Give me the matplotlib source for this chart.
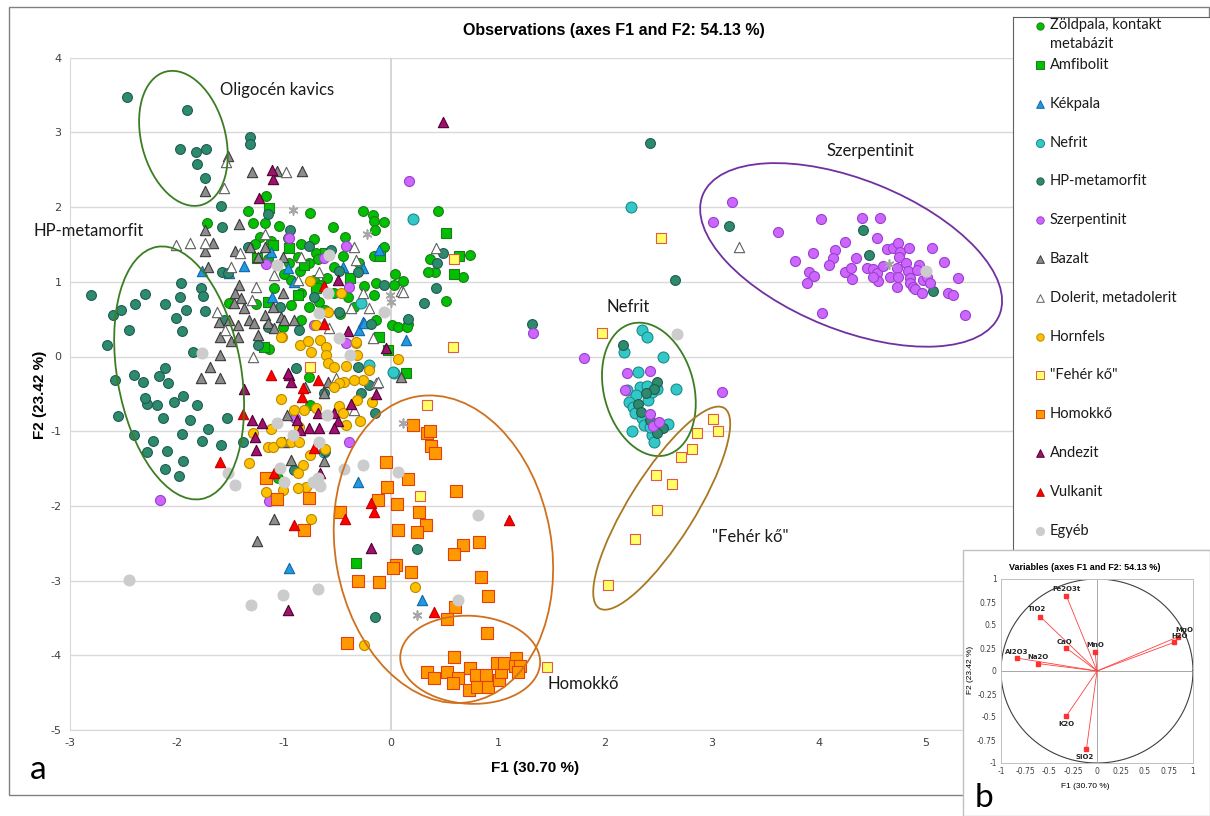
import numpy as np
import matplotlib.pyplot as plt
from matplotlib.patches import Ellipse, Rectangle
from matplotlib.transforms import ScaledTranslation

plt.rcParams["axes.unicode_minus"] = False

# ---- PCA observation scores (F1, F2) per rock group ----
zoldpala_x = [-1.17, -1.34, -0.76, -0.26, -0.17, -0.07, -0.16, 0.44, -1.72, -1.29, -1.18, -1.22, -0.54, -0.43,
              -0.72, -0.96, -0.84, -0.70, -0.16, -0.07, 0.36, 0.41, 0.51, 0.04, 0.11, -0.14, 0.03, -0.68, -0.77,
              -0.87, -0.53, -0.53, -0.16, -0.93, -0.72, -0.65, -0.84, -1.09, -0.93, -0.77, -0.67, -0.48, -0.35,
              -0.14, 0.01, 0.16, 0.07, -1.51, -1.26, -1.14, -1.19, -0.77, -0.76, -0.84, -1.01, -1.06, 0.74, 0.67,
              0.35, 0.15, -1.05, -0.95, -1.00, -0.60, -0.45, -0.30, -0.25, -1.12, -0.62, -0.85, -1.15, -0.40,
              -1.27, -0.15]
zoldpala_y = [2.15, 1.95, 1.92, 1.95, 1.89, 1.80, 1.81, 1.95, 1.79, 1.79, 1.79, 1.60, 1.73, 1.60,
              1.57, 1.59, 1.51, 1.39, 1.35, 1.47, 1.31, 1.13, 0.74, 1.10, 1.01, 0.98, 0.96, 1.31, 1.25,
              1.33, 1.20, 0.85, 0.82, 1.02, 1.02, 0.96, 0.85, 0.92, 0.69, 0.66, 0.73, 0.57, 0.66,
              0.49, 0.42, 0.44, 0.39, 0.71, 0.70, 0.10, 0.13, -0.27, -0.65, 0.49, 0.40, -1.63, 1.36, 1.07,
              1.13, 0.40, 1.75, 1.25, 1.10, 1.05, 1.35, 1.25, 0.95, 1.55, 0.62, 1.15, 1.30, 0.80,
              1.50, 1.70]

amfibolit_x = [-1.14, 0.51, -1.10, -0.81, -0.87, -1.15, -0.11, -1.19, -0.03, 0.14, 0.64, 0.59, -0.33,
               -0.95, -0.62, -1.25, -0.38, -0.70, -0.10]
amfibolit_y = [1.99, 1.65, 1.49, 1.22, 0.82, 0.73, 0.26, 0.13, 0.09, -0.22, 1.34, 1.11, -2.77,
               1.45, 1.38, 1.32, 1.05, 0.92, 1.35]

kekpala_x = [-1.37, -1.51, -1.12, -1.11, -0.96, -0.91, -0.45, -0.26, -0.11, -0.26, -0.30, 0.14, -0.31,
             -0.63, -0.25, -0.95, 0.29, -1.77]
kekpala_y = [1.21, 1.12, 1.40, 0.80, 1.18, 1.00, 1.20, 1.18, 1.43, 0.46, 0.35, 0.22, -1.68,
             0.45, 0.45, -2.83, -3.26, 1.15]

nefrit_x = [2.35, 2.39, 2.18, 2.54, 2.31, 2.66, 2.21, 2.33, 2.39, 2.48, 2.29, 2.22, 2.26, 2.28, 2.35, 2.36,
            2.25, 2.44, 2.46, 2.59, 2.42, 2.40, 2.44, 2.49, 0.21, 2.24, 0.03, -0.21, 0.02, -0.28, -0.63]
nefrit_y = [0.35, 0.26, 0.06, -0.01, -0.21, -0.44, -0.45, -0.41, -0.40, -0.41, -0.52, -0.61, -0.67, -0.76,
            -0.82, -0.92, -1.00, -1.05, -1.14, -0.90, -0.95, -0.58, -0.47, -0.44, 1.84, 2.00, -0.22, -0.11,
            -0.21, 0.72, -1.28]

hp_x = [-2.47, -1.91, -1.97, -1.82, -1.73, -1.81, -1.74, -1.32, -1.32,
        -1.96, -1.78, -2.30, -2.39, -2.11, -1.97, -1.76, -1.92, -2.01, -1.95, -1.74, -1.85, -2.11, -2.17,
        -2.08, -2.32, -1.94, -2.03, -1.81, -2.28, -2.19, -2.13, -1.88, -1.71, -1.95, -2.22, -1.77, -1.59,
        -2.09, -1.94, -2.11, -1.98, -1.53, -1.38, -2.80, -2.60, -2.52, -2.65, -2.45, -2.58, -2.40, -2.30,
        -2.55, -2.40, -2.28,
        2.42, 2.65, 1.32, 0.49, 0.43, 0.42, 0.31, 0.16, 2.17, 3.16, 4.41, 4.47, 5.07, 2.49, 2.46, 2.38,
        2.31, 2.34, 2.42, 2.54, 2.49, -1.59, -1.58, -0.94, -1.15, -1.34, -0.77, -0.56, -0.49, -0.31, -0.07,
        -0.72, -0.49, -0.19, -0.86, -1.15, -1.24, -0.89, -0.31, -0.21, -0.28, -0.63, -0.15, -0.91, -0.62,
        -1.04, -1.56, 0.24, -0.15, -1.58, -1.52]
hp_y = [3.47, 3.30, 2.78, 2.74, 2.78, 2.58, 2.39, 2.94, 2.84,
        0.98, 0.92, 0.84, 0.70, 0.70, 0.80, 0.81, 0.62, 0.52, 0.34, 0.61, 0.06, -0.15, -0.26,
        -0.35, -0.34, -0.53, -0.61, -0.65, -0.64, -0.65, -0.82, -0.85, -0.97, -1.04, -1.13, -1.13, -1.18,
        -1.27, -1.40, -1.51, -1.60, -0.82, -1.14, 0.82, 0.55, 0.62, 0.15, 0.35, -0.32, -0.25, -0.55,
        -0.80, -1.05, -1.28,
        2.86, 1.02, 0.43, 1.39, 1.25, 0.92, 0.71, 0.50, 0.15, 1.75, 1.69, 1.36, 0.88, -0.34, -0.44, -0.49,
        -0.64, -0.74, -0.85, -0.96, -1.02, 2.01, 1.73, 1.69, 1.91, 1.47, 1.48, 1.43, 1.14, 1.13, 0.96,
        0.80, 0.60, 0.44, 0.36, 0.40, 0.15, -0.15, -0.14, -0.38, -0.49, -0.49, -0.76, -1.52, -1.27,
        0.66, 0.49, -2.58, -3.49, 1.13, 1.12]

szerp_x = [3.19, 3.01, 3.62, 4.02, 4.40, 4.57, 4.54, 4.24, 4.15, 3.94, 3.78, 4.13, 4.09, 3.91, 3.95, 3.89,
           4.24, 4.31, 4.30, 4.35, 4.45, 4.50, 4.54, 4.55, 4.60, 4.64, 4.69, 4.74, 4.76, 4.84, 5.06, 5.17,
           4.75, 4.73, 4.81, 4.66, 4.74, 4.83, 4.85, 4.93, 4.92, 4.97, 5.01, 4.85, 4.88, 4.73, 4.90, 4.96,
           5.04, 5.30, 5.21, 5.25, 5.36, 4.03, 4.50,
           0.17, 1.33, 1.80, 3.09, 2.21, 2.42, 2.19, 2.42, 2.45, 2.50, -0.95, -1.17, -0.42, -0.63, -0.39,
           -0.42, -0.72, -0.39, -0.90, -2.16, -1.14]
szerp_y = [2.07, 1.80, 1.67, 1.84, 1.85, 1.85, 1.59, 1.53, 1.43, 1.39, 1.28, 1.32, 1.23, 1.13, 1.08, 0.98,
           1.13, 1.04, 1.19, 1.32, 1.19, 1.17, 1.12, 1.01, 1.21, 1.44, 1.45, 1.52, 1.40, 1.45, 1.45, 1.26,
           1.33, 1.19, 1.25, 1.06, 1.06, 1.14, 1.05, 1.22, 1.16, 1.02, 1.06, 0.98, 0.93, 0.93, 0.90, 0.85,
           0.98, 1.05, 0.85, 0.82, 0.55, 0.58, 1.06,
           2.35, 0.32, -0.02, -0.47, -0.22, -0.19, -0.45, -0.77, -0.93, -0.88, 1.59, 1.24, 1.48, 1.32, 0.93,
           0.18, 0.42, -1.14, -0.82, -1.92, -1.94]

bazalt_x = [-1.52, -1.74, -1.30, -1.07, -0.83, -1.42, -1.74, -1.66, -1.74, -1.71, -1.46, -1.32, -1.24, -1.42,
            -1.46, -1.40, -1.47, -1.37, -1.61, -1.51, -1.43, -1.33, -1.28, -1.60, -1.50, -1.43, -1.24, -1.18,
            -1.10, -1.03, -1.01, -1.15, -1.09, -1.00, -0.91, -1.18, -1.01, -1.60, -1.69, -1.78, -1.60, -0.80,
            -0.59, -0.63, -0.97, -1.00, -0.93, -0.63, 0.09, -1.09, -1.25]
bazalt_y = [2.68, 2.22, 2.47, 2.48, 2.48, 1.77, 1.69, 1.52, 1.41, 1.20, 1.41, 1.47, 1.33, 0.96,
            0.85, 0.78, 0.71, 0.65, 0.46, 0.49, 0.42, 0.49, 0.45, 0.26, 0.21, 0.26, 0.29, 0.55,
            0.66, 0.53, 0.85, 0.45, 0.38, 0.49, 0.49, 1.47, 1.33, 0.02, -0.14, -0.29, -0.29, -0.41,
            -0.34, -0.49, -0.78, -1.14, -1.39, -1.40, -0.27, -2.18, -2.47]

dolerit_x = [-1.54, -1.56, -0.98, -2.01, -1.88, -1.74, -1.18, -1.41, -0.84, -0.67, -0.35, -0.33, -0.26, -0.37,
             -0.21, 0.09, -1.26, -1.63, -1.29, -0.58, -0.17, -0.14, -0.35, -0.87, -1.09, -0.53, -0.12, -0.51,
             0.42, 0.11, 3.25, -1.50, -1.30, -1.55]
dolerit_y = [2.60, 2.26, 2.47, 1.49, 1.52, 1.52, 1.64, 1.38, 1.33, 1.13, 1.47, 1.29, 0.85, 0.65,
             0.65, 0.88, 0.93, 0.59, 0.00, 0.38, 0.25, -0.35, -0.72, 1.02, 1.09, -0.35, -0.34, -0.29,
             1.45, 0.86, 1.47, 1.20, 0.75, 0.35]

hornfels_x = [-0.59, -0.70, -1.02, -0.85, -0.78, -0.75, -0.66, -0.61, -0.61, -0.59, -0.53, -0.42, -0.33, -0.32,
              -0.21, -0.26, -0.35, -0.44, -0.49, -0.53, -0.32, -0.18, -0.49, -0.45, -0.42, -0.29, -0.70, -0.81,
              -0.91, -0.86, -1.03, -1.12, -1.15, -1.10, -1.03, -0.93, -0.86, -0.76, -0.62, -0.82, -0.87, -0.79,
              -0.87, -1.01, -1.17, -1.33, -1.29, 0.07, -0.75, 0.22, -0.76, -0.47, -1.03, -0.33, -0.25]
hornfels_y = [0.60, 0.42, 0.26, 0.15, 0.21, 0.06, 0.22, 0.13, 0.02, -0.09, -0.14, -0.13, 0.18, 0.02,
              -0.18, -0.31, -0.31, -0.34, -0.36, -0.41, -0.58, -0.61, -0.66, -0.76, -0.92, -0.86, -0.69, -0.72,
              -0.72, -0.94, -0.57, -0.97, -1.21, -1.21, -1.15, -1.15, -1.15, -1.32, -1.24, -1.45, -1.56, -1.75,
              -1.76, -1.79, -1.81, -1.43, -1.03, -0.04, -2.18, -3.08, 1.01, 0.85, 0.26, 0.19, -3.86]

feher_x = [3.01, 3.06, 2.86, 2.81, 2.71, 2.48, 2.63, 2.49, 2.28, 2.03, 2.52, 0.59, 0.58, 1.97, -0.76,
           0.34, 0.27, 1.46]
feher_y = [-0.84, -1.00, -1.03, -1.24, -1.35, -1.59, -1.71, -2.05, -2.44, -3.06, 1.58, 1.30, 0.13, 0.31, -0.14,
           -0.65, -1.87, -4.16]

homok_x = [0.21, 0.34, 0.36, 0.37, 0.41, -0.05, 0.16, -0.04, 0.61, -0.12, 0.06, 0.26, -0.48, 0.07, 0.33,
           0.24, 0.67, 0.59, 0.82, 0.05, 0.02, 0.19, -0.31, -0.11, 0.84, 0.91, 0.60, 0.52, 0.90, -0.41,
           0.59, 0.34, 0.40, 0.52, 0.63, 0.58, 0.74, 0.79, 0.89, 0.73, 0.80, 0.91, 1.01, 1.03, 0.99, 1.06,
           1.17, 1.16, 1.21, 1.19, -0.77, -0.81, -1.17, -1.07]
homok_y = [-0.92, -1.02, -1.00, -1.20, -1.29, -1.41, -1.64, -1.75, -1.80, -1.92, -1.98, -2.08, -2.08, -2.32,
           -2.26, -2.35, -2.53, -2.64, -2.48, -2.79, -2.83, -2.88, -3.01, -3.02, -2.95, -3.21, -3.35, -3.52,
           -3.70, -3.84, -4.02, -4.22, -4.30, -4.22, -4.30, -4.37, -4.17, -4.27, -4.27, -4.46, -4.42, -4.43,
           -4.33, -4.22, -4.10, -4.10, -4.04, -4.14, -4.14, -4.22, -1.89, -2.32, -1.63, -1.91]

andezit_x = [-1.10, -1.23, -0.50, -0.05, -0.40, -0.95, -0.93, -1.37, -0.14, -0.37, -1.30, -1.21, -0.88, -0.68,
             -0.53, -0.50, -0.77, -0.67, -0.53, -0.85, -1.27, -1.26, -0.66, 0.49, -0.19, -0.96, -1.11, -0.96]
andezit_y = [2.38, 2.12, 1.02, 0.11, 0.34, -0.25, -0.34, -0.44, -0.50, -0.63, -0.85, -0.89, -0.85, -0.76,
             -0.76, -0.87, -0.96, -0.96, -0.96, -0.98, -1.08, -1.25, -1.56, 3.14, -2.56, -3.39, 2.50, -0.22]

vulkanit_x = [-0.63, -1.12, -0.82, -0.83, -0.68, -1.38, -1.60, -1.09, -0.72, -0.63, -0.91, -0.19, -0.16,
              -0.43, 1.10, 0.40]
vulkanit_y = [0.94, -0.25, -0.42, -0.54, -0.31, -0.77, -1.41, -1.56, -1.23, 0.43, -2.25, -1.96, -2.08,
              -2.17, -2.19, -3.42]

egyeb_x = [-1.07, -0.58, -0.59, -0.67, -0.07, -0.49, -0.38, -1.77, -0.60, -1.07, -0.92, -0.67, -1.52, -1.46,
           -1.04, -1.00, -0.73, -0.68, -0.44, -0.26, 0.07, -0.66, -1.01, -0.68, 0.81, 0.63, -2.45, -1.31,
           5.00, 2.67]
egyeb_y = [1.22, 1.36, 0.85, 0.58, 0.60, 0.25, 0.02, 0.05, -0.78, -0.89, -1.05, -1.14, -1.56, -1.72,
           -1.49, -1.68, -1.68, -1.63, -1.51, -1.45, -1.55, -1.74, -3.19, -3.11, -2.12, -3.26, -2.99, -3.33,
           1.14, 0.30]

# samples without a group in the key
other_x = [-0.92, -0.22, -0.01, 0.00, 0.11, 0.24, 4.65]
other_y = [1.96, 1.64, 0.82, 0.73, -0.89, -3.46, 1.24]

# ---- variable loadings for the correlation circle ----
var_names = ["Fe2O3t", "TiO2", "CaO", "MnO", "Al2O3", "Na2O", "MgO", "H2O", "K2O", "SiO2"]
var_f1 = [-0.32, -0.59, -0.32, -0.02, -0.83, -0.61, 0.84, 0.80, -0.32, -0.11]
var_f2 = [0.82, 0.59, 0.25, 0.21, 0.14, 0.08, 0.37, 0.31, -0.49, -0.85]

series = [
    ("Zöldpala, kontakt\nmetabázit", zoldpala_x, zoldpala_y, dict(marker="o", s=50, c="#00c000", edgecolors="#1f7a1f")),
    ("Amfibolit", amfibolit_x, amfibolit_y, dict(marker="s", s=62, c="#00c000", edgecolors="#1f7a1f")),
    ("Kékpala", kekpala_x, kekpala_y, dict(marker="^", s=55, c="#1e9ae0", edgecolors="#1565a8")),
    ("Nefrit", nefrit_x, nefrit_y, dict(marker="o", s=62, c="#33c8c8", edgecolors="#1f8a8a")),
    ("HP-metamorfit", hp_x, hp_y, dict(marker="o", s=50, c="#2e8b6a", edgecolors="#1f5a5a")),
    ("Szerpentinit", szerp_x, szerp_y, dict(marker="o", s=52, c="#cc66ff", edgecolors="#9b40cc")),
    ("Bazalt", bazalt_x, bazalt_y, dict(marker="^", s=55, c="#8c8c8c", edgecolors="#3a3a3a")),
    ("Dolerit, metadolerit", dolerit_x, dolerit_y, dict(marker="^", s=55, c="#ffffff", edgecolors="#606060")),
    ("Hornfels", hornfels_x, hornfels_y, dict(marker="o", s=52, c="#ffc000", edgecolors="#b88a00")),
    ('"Fehér kő"', feher_x, feher_y, dict(marker="s", s=50, c="#ffff66", edgecolors="#e05a4a")),
    ("Homokkő", homok_x, homok_y, dict(marker="s", s=64, c="#ff9900", edgecolors="#e04010")),
    ("Andezit", andezit_x, andezit_y, dict(marker="^", s=55, c="#a0106e", edgecolors="#500030")),
    ("Vulkanit", vulkanit_x, vulkanit_y, dict(marker="^", s=55, c="#ff0000", edgecolors="#c00000")),
    ("Egyéb", egyeb_x, egyeb_y, dict(marker="o", s=62, c="#cccccc", edgecolors="#cccccc")),
]

W, H = 1210, 816
fig = plt.figure(figsize=(W / 100, H / 100), dpi=100)
label_font = ["Lato", "DejaVu Sans"]

# outer frame of the whole panel
fig.add_artist(Rectangle((9 / W, 21 / H), 1200 / W, 788 / H, transform=fig.transFigure,
                         fill=False, edgecolor="#808080", lw=1, zorder=0.5))

ax = fig.add_axes([70 / W, 86 / H, 963 / W, 672.3 / H])
ax.set_xlim(-3, 6)
ax.set_ylim(-5, 4)
ax.set_xticks(range(-3, 7))
ax.set_yticks(range(-5, 5))
for yv in range(-5, 5):
    ax.axhline(yv, color="#d9d9d9", lw=1, zorder=0)
ax.axvline(0, color="#cfcfcf", lw=1.2, zorder=0)
for side in ["top", "right"]:
    ax.spines[side].set_visible(False)
for side in ["left", "bottom"]:
    ax.spines[side].set_color("#d9d9d9")
ax.tick_params(length=0, labelsize=8, labelcolor="#404040", pad=6)

for name, xs, ys, st in series:
    ax.scatter(xs, ys, linewidths=0.8, label=name, zorder=3, **st)
ax.scatter(other_x, other_y, marker=(6, 2, 0), s=40, c="#a6a6a6", linewidths=1.2, zorder=3)

# group outlines, sizes given in inches around a data-space centre
groups = [
    (-1.94, 2.92, 1.38, 0.84, 105, "#3a7d22"),
    (-1.98, -0.22, 2.56, 1.24, 100, "#3a7d22"),
    (4.30, 1.36, 3.20, 1.50, -22, "#7030a0"),
    (2.41, -0.44, 1.36, 0.90, 105, "#3a7d22"),
    (2.53, -2.03, 2.36, 0.66, 58, "#a87820"),
    (0.49, -2.58, 3.10, 2.16, 100, "#d0701e"),
    (0.74, -4.06, 1.40, 0.88, -3, "#d0701e"),
]
for cx, cy, w, h, ang, col in groups:
    tr = fig.dpi_scale_trans + ScaledTranslation(cx, cy, ax.transData)
    ax.add_patch(Ellipse((0, 0), w, h, angle=ang, transform=tr, fill=False,
                         edgecolor=col, lw=1.3, zorder=4))

notes = [("Oligocén kavics", -1.60, 3.57), ("HP-metamorfit", -3.34, 1.68), ("Szerpentinit", 4.07, 2.75),
         ("Nefrit", 2.01, 0.66), ('"Fehér kő"', 3.00, -2.42), ("Homokkő", 1.46, -4.38)]
for txt, tx, ty in notes:
    ax.text(tx, ty, txt, fontsize=12, family=label_font, color="#1a1a1a", va="center", ha="left", zorder=5)

fig.text(614 / W, 1 - 30 / H, "Observations (axes F1 and F2: 54.13 %)", ha="center", va="center",
         fontsize=11.5, fontweight="bold", family="Liberation Sans")
fig.text(535 / W, 1 - 768 / H, "F1 (30.70 %)", ha="center", va="center",
         fontsize=11, fontweight="bold", family="Liberation Sans")
fig.text(40 / W, 1 - 395 / H, "F2 (23.42 %)", ha="center", va="center", rotation=90,
         fontsize=11, fontweight="bold", family="Liberation Sans")
fig.text(30 / W, 1 - 770 / H, "a", ha="left", va="center", fontsize=24, family=label_font)

# key box on the right
leg = fig.add_axes([1013 / W, 266 / H, 197 / W, 533 / H], zorder=2)
leg.set_xlim(0, 197)
leg.set_ylim(533, 0)
leg.set_xticks([])
leg.set_yticks([])
leg.spines["right"].set_visible(False)
for side in ["left", "top", "bottom"]:
    leg.spines[side].set_color("#606060")
row_y = [9] + [48 + 38.8 * i for i in range(len(series) - 1)]
for (name, xs, ys, st), ry in zip(series, row_y):
    kst = dict(st)
    kst["s"] = st["s"] * 0.55
    leg.scatter([27], [ry], linewidths=0.7, clip_on=False, **kst)
    two_lines = "\n" in name
    leg.text(37, ry - 8 if two_lines else ry, name, fontsize=10.5, family=label_font,
             va="top" if two_lines else "center", ha="left", linespacing=1.45, color="#1a1a1a")

# correlation circle panel
fig.add_artist(Rectangle((963 / W, 0), 247 / W, 266 / H, transform=fig.transFigure,
                         facecolor="white", edgecolor="#c0c0c0", lw=1, zorder=3))
ins = fig.add_axes([1001 / W, 53 / H, 192 / W, 184 / H], zorder=4)
ins.set_xlim(-1, 1)
ins.set_ylim(-1, 1)
ticks = [-1, -0.75, -0.5, -0.25, 0, 0.25, 0.5, 0.75, 1]
ins.set_xticks(ticks)
ins.set_yticks(ticks)
ins.set_xticklabels([f"{v:g}" for v in ticks])
ins.set_yticklabels([f"{v:g}" for v in ticks])
ins.tick_params(length=0, labelsize=5.5, labelcolor="#404040", pad=3)
for sp in ins.spines.values():
    sp.set_color("#bfbfbf")
    sp.set_linewidth(0.7)
t = np.linspace(0, 2 * np.pi, 400)
ins.plot(np.cos(t), np.sin(t), color="#404040", lw=0.8)
ins.axhline(0, color="#9a9a9a", lw=0.6)
ins.axvline(0, color="#9a9a9a", lw=0.6)
offsets = {"Fe2O3t": (0.0, 0.07, "center"), "TiO2": (-0.03, 0.08, "center"), "CaO": (-0.02, 0.07, "center"),
           "MnO": (0.0, 0.07, "center"), "Al2O3": (-0.01, 0.07, "center"), "Na2O": (0.0, 0.07, "center"),
           "MgO": (0.07, 0.08, "center"), "H2O": (0.06, 0.07, "center"), "K2O": (0.0, -0.09, "center"),
           "SiO2": (-0.02, -0.09, "center")}
for nm, vx, vy in zip(var_names, var_f1, var_f2):
    ins.plot([0, vx], [0, vy], color="#ff4040", lw=0.6)
    ins.plot(vx, vy, "s", ms=2.2, color="#ff3030")
    dx, dy, ha = offsets[nm]
    ins.text(vx + dx, vy + dy, nm, fontsize=5, fontweight="bold", ha=ha, va="center", color="#262626")
fig.text(1085 / W, 1 - 568 / H, "Variables (axes F1 and F2: 54.13 %)", ha="center", va="center",
         fontsize=6.5, fontweight="bold", family="Liberation Sans", zorder=5)
fig.text(1085 / W, 1 - 787 / H, "F1 (30.70 %)", ha="center", va="center", fontsize=6,
         family="Liberation Sans", zorder=5)
fig.text(970 / W, 1 - 670 / H, "F2 (23.42 %)", ha="center", va="center", fontsize=6, rotation=90,
         family="Liberation Sans", zorder=5)
fig.text(975 / W, 1 - 798 / H, "b", ha="left", va="center", fontsize=24, family=label_font, zorder=5)

fig.savefig("out.png", dpi=100)
